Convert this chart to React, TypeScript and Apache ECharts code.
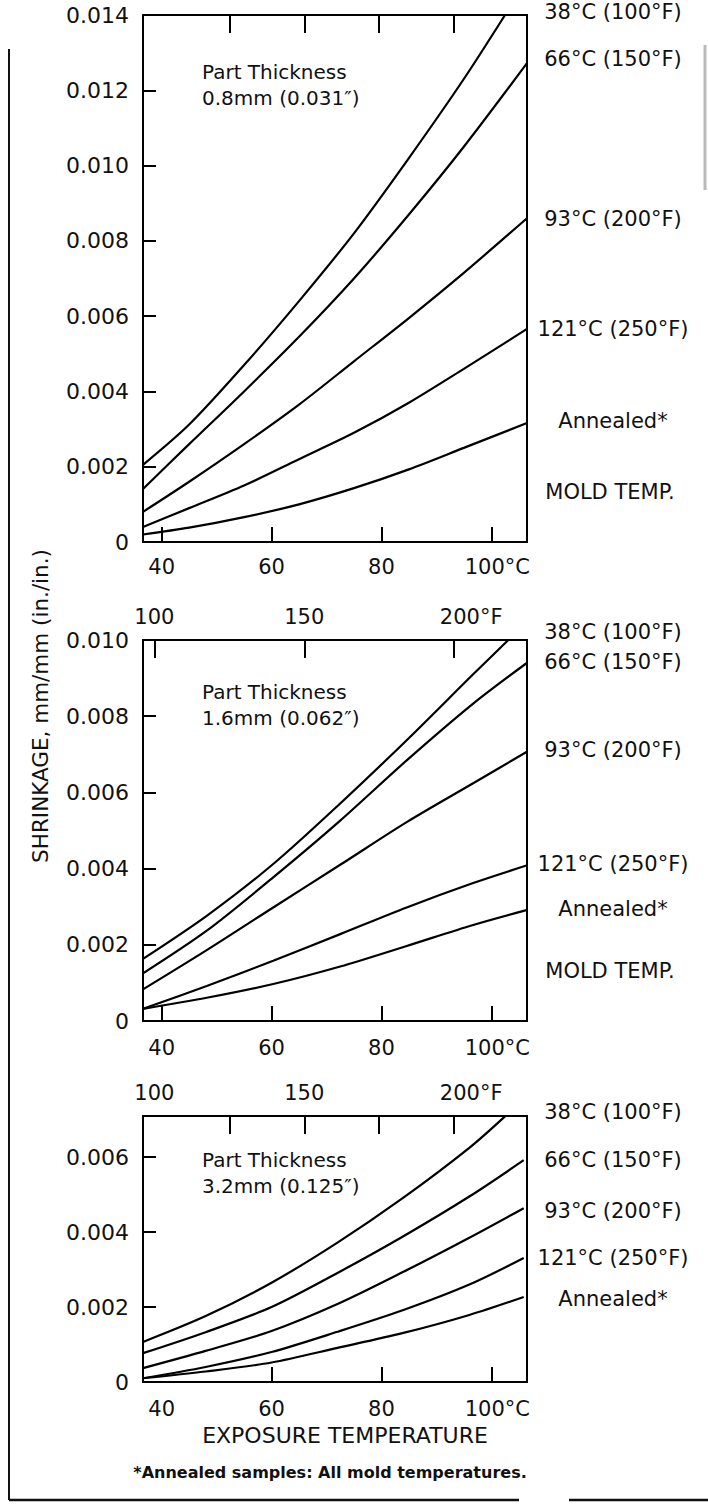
import React, { useEffect, useRef } from 'react';
import * as echarts from 'echarts';

const FONT = '"DejaVu Sans", "Liberation Sans", sans-serif';
const INK = '#111';

// ---- Panel 1: part thickness 0.8 mm ----
const p1TempsTop = [36.6, 45, 55, 65, 75, 85, 95, 102.5];
const p1Mold38 = [0.00205, 0.00312, 0.0047, 0.0064, 0.0082, 0.0102, 0.0123, 0.014];
const p1Temps = [36.6, 45, 55, 65, 75, 85, 95, 106.5];
const p1Mold66 = [0.00141, 0.0026, 0.004, 0.00545, 0.007, 0.0087, 0.0105, 0.01272];
const p1Mold93 = [0.0008, 0.0016, 0.0026, 0.00365, 0.0048, 0.00595, 0.00715, 0.0086];
const p1Mold121 = [0.0004, 0.0009, 0.0015, 0.0022, 0.0029, 0.0037, 0.0046, 0.00566];
const p1Annealed = [0.0002, 0.00038, 0.00066, 0.001, 0.00143, 0.00193, 0.0025, 0.00316];

// ---- Panel 2: part thickness 1.6 mm ----
const p2TempsTop = [36.6, 48.2, 60.3, 72.5, 84.6, 96.7, 103.1];
const p2Mold38 = [0.00163, 0.00276, 0.00412, 0.00571, 0.00737, 0.0091, 0.01];
const p2Temps = [36.6, 48.2, 60.3, 72.5, 84.6, 96.7, 106.4];
const p2Mold66 = [0.00125, 0.00237, 0.00377, 0.00526, 0.00684, 0.00833, 0.00939];
const p2Mold93 = [0.00083, 0.00186, 0.00298, 0.0041, 0.00522, 0.00624, 0.00706];
const p2Mold121 = [0.00032, 0.00092, 0.00158, 0.00228, 0.00298, 0.00362, 0.00408];
const p2Annealed = [0.00032, 0.00061, 0.00097, 0.00143, 0.00197, 0.00252, 0.00291];

// ---- Panel 3: part thickness 3.2 mm ----
const p3TempsTop = [36.6, 48, 60, 72, 84, 96, 102.5];
const p3Mold38 = [0.00107, 0.00176, 0.00265, 0.00372, 0.00492, 0.00625, 0.00709];
const p3Temps = [36.6, 48, 60, 72, 84, 96, 105.9];
const p3Mold66 = [0.00077, 0.00133, 0.002, 0.00291, 0.00389, 0.00495, 0.00592];
const p3Mold93 = [0.00037, 0.00083, 0.00136, 0.00208, 0.00294, 0.00385, 0.00464];
const p3Mold121 = [0.0001, 0.0004, 0.0008, 0.00134, 0.00192, 0.0026, 0.00331];
const p3Annealed = [0.0001, 0.00028, 0.00052, 0.00091, 0.00131, 0.00179, 0.00227];

const curveNames = ['38°C (100°F)', '66°C (150°F)', '93°C (200°F)', '121°C (250°F)', 'Annealed*'];
const thicknessLabels = ['0.8mm (0.031″)', '1.6mm (0.062″)', '3.2mm (0.125″)'];
const yMax = [0.014, 0.01, 0.0071];
const cLabelTicks = [40, 60, 80, 100];
const cTickMarks = [[40, 60, 80, 100], [40, 60, 80, 100], [60, 80, 100]];
const fLabelTicks = [100, 150, 200];
const fTickMarks = [[125, 150, 175, 200], [100, 150, 200], [125, 150, 175, 200]];

const panels = [
  { topT: p1TempsTop, top: p1Mold38, t: p1Temps, rest: [p1Mold66, p1Mold93, p1Mold121, p1Annealed] },
  { topT: p2TempsTop, top: p2Mold38, t: p2Temps, rest: [p2Mold66, p2Mold93, p2Mold121, p2Annealed] },
  { topT: p3TempsTop, top: p3Mold38, t: p3Temps, rest: [p3Mold66, p3Mold93, p3Mold121, p3Annealed] },
];

// layout
const grids = [
  { top: 15, height: 527 },
  { top: 640, height: 381 },
  { top: 1116, height: 266 },
];
const labelYs = [
  [12, 59, 219, 329, 421],
  [632, 662, 750, 864, 909],
  [1112, 1160, 1211, 1258, 1299],
];
const moldYs = [492, 971];
const thickYs = [72, 692, 1160];

export default function App() {
  const ref = useRef<HTMLDivElement>(null);
  useEffect(() => {
    if (!ref.current) return;
    const chart = echarts.init(ref.current, null, { renderer: 'svg' });
    const txt = { fontFamily: FONT, color: INK };

    const grid = grids.map((g) => ({
      left: 143, width: 384, top: g.top, height: g.height,
      show: true, borderColor: '#000', borderWidth: 2, backgroundColor: 'transparent',
    }));

    const xAxis: any[] = [];
    grids.forEach((_, i) => {
      xAxis.push({
        type: 'value', gridIndex: i, position: 'bottom', min: 36.6, max: 106.5,
        axisLine: { show: false }, splitLine: { show: false },
        axisTick: { show: true, inside: true, length: 15, customValues: cTickMarks[i], lineStyle: { color: '#000', width: 2 } },
        axisLabel: {
          ...txt, fontSize: 21, margin: i === 0 ? 14 : 16, customValues: cLabelTicks,
          formatter: (v: number) => (v === 100 ? '{p|}100°C' : String(v)),
          rich: { p: { width: 12 } },
        },
      });
    });
    grids.forEach((_, i) => {
      xAxis.push({
        type: 'value', gridIndex: i, position: 'top', min: 96.2, max: 224.3,
        axisLine: { show: false }, splitLine: { show: false },
        axisTick: { show: true, inside: true, length: 18, customValues: fTickMarks[i], lineStyle: { color: '#000', width: 2 } },
        axisLabel: {
          show: i > 0, ...txt, fontSize: 21, margin: 13, customValues: fLabelTicks,
          formatter: (v: number) => (v === 200 ? '{p|}200°F' : String(v)),
          rich: { p: { width: 34 } },
        },
      });
    });
    const yAxis = grids.map((_, i) => ({
      type: 'value', gridIndex: i, min: 0, max: yMax[i], interval: 0.002,
      axisLine: { show: false }, splitLine: { show: false },
      axisTick: { show: true, inside: true, length: 13, lineStyle: { color: '#000', width: 2 } },
      axisLabel: {
        ...txt, fontSize: 22, margin: 14, showMaxLabel: i !== 2,
        formatter: (v: number) => (v === 0 ? '0' : v.toFixed(3)),
      },
    }));

    const series: any[] = [];
    panels.forEach((p, i) => {
      const lines = [p.topT.map((t, k) => [t, p.top[k]])].concat(
        p.rest.map((vals) => p.t.map((t, k) => [t, vals[k]]))
      );
      lines.forEach((data, j) => {
        series.push({
          type: 'line', name: `${thicknessLabels[i]} ${curveNames[j]}`,
          xAxisIndex: i, yAxisIndex: i, data, smooth: 0.3,
          symbol: 'none', clip: true,
          lineStyle: { color: '#000', width: 2.2 }, emphasis: { disabled: true },
        });
      });
    });

    const graphic: any[] = [];
    const t = (text: string, x: number, y: number, opts: any = {}) =>
      graphic.push({
        type: 'text', x, y, z: 50, rotation: opts.rotation || 0,
        style: {
          text, fill: INK, fontFamily: FONT, fontSize: opts.size || 21,
          fontWeight: opts.weight || 'normal',
          textAlign: opts.align || 'center', textVerticalAlign: 'middle',
        },
      });
    labelYs.forEach((ys) => ys.forEach((y, j) => t(curveNames[j], 613, y)));
    moldYs.forEach((y) => t('MOLD TEMP.', 610, y));
    thickYs.forEach((y, i) => {
      t('Part Thickness', 202, y, { align: 'left', size: 20 });
      t(thicknessLabels[i], 202, y + 26, { align: 'left', size: 20 });
    });
    t('SHRINKAGE, mm/mm (in./in.)', 40, 706, { rotation: Math.PI / 2, size: 21.5 });
    t('EXPOSURE TEMPERATURE', 345, 1435, { size: 22 });
    t('*Annealed samples: All mold temperatures.', 330, 1472, { size: 16, weight: 'bold' });

    // scan frame
    const frame = { stroke: '#111', lineWidth: 2 };
    graphic.push({ type: 'line', shape: { x1: 9, y1: 49, x2: 9, y2: 1500 }, style: frame, z: 40 });
    graphic.push({ type: 'line', shape: { x1: 9, y1: 1500, x2: 519, y2: 1500 }, style: { ...frame, lineWidth: 2.5 }, z: 40 });
    graphic.push({ type: 'line', shape: { x1: 569, y1: 1500, x2: 708, y2: 1500 }, style: { ...frame, lineWidth: 2.5 }, z: 40 });
    graphic.push({ type: 'line', shape: { x1: 705, y1: 45, x2: 705, y2: 190 }, style: { stroke: '#bbb', lineWidth: 3 }, z: 40 });

    chart.setOption({
      animation: false,
      backgroundColor: '#fff',
      grid, xAxis, yAxis, series, graphic,
    });
    return () => chart.dispose();
  }, []);
  return (
    <div
      ref={ref}
      style={{ position: 'absolute', left: 0, top: 0, width: 708, height: 1507, background: '#fff' }}
    />
  );
}
